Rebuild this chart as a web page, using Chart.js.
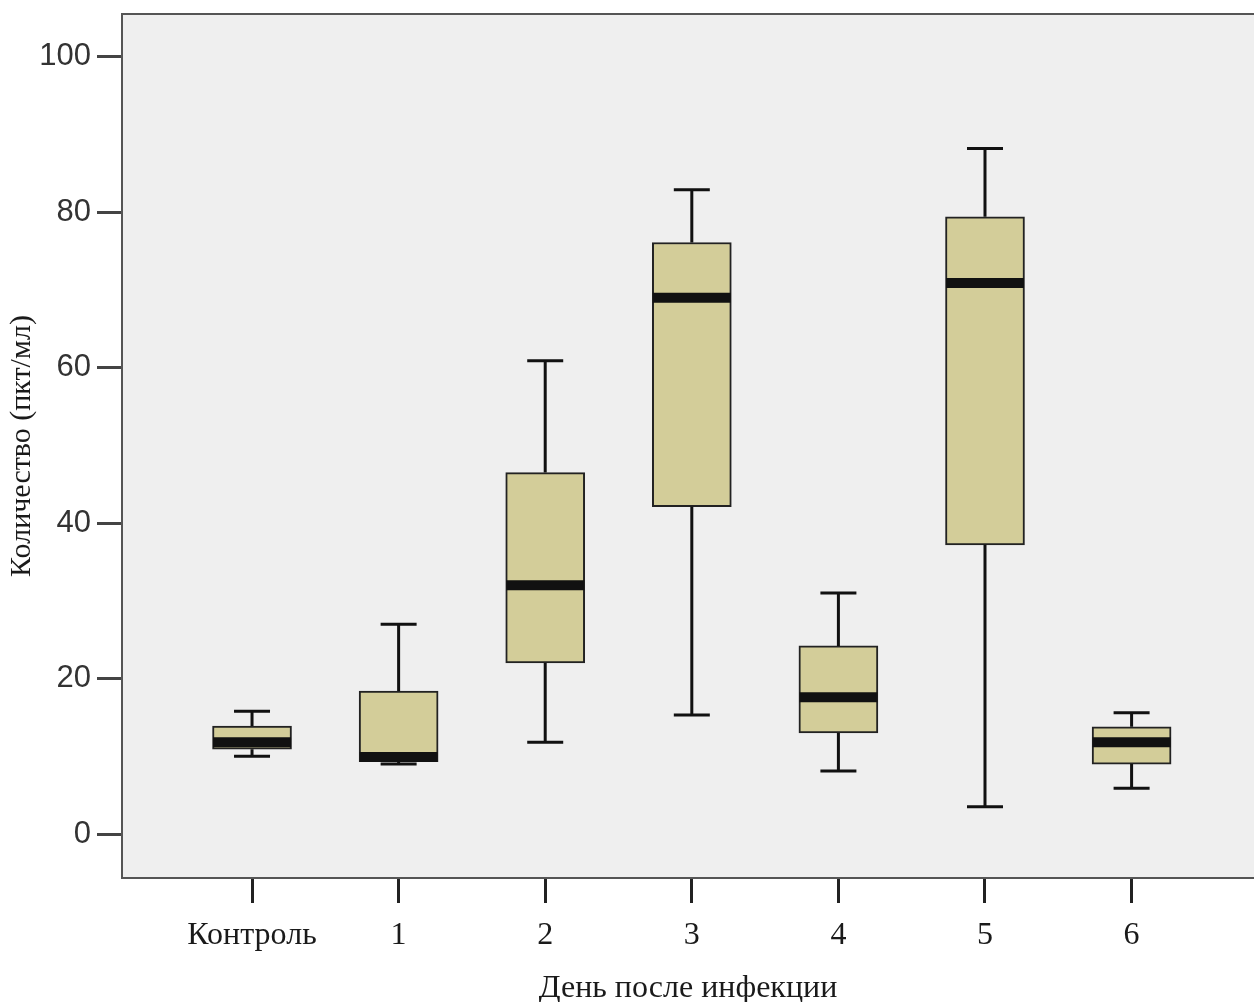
<!DOCTYPE html>
<html>
<head>
<meta charset="utf-8">
<script src="https://cdn.jsdelivr.net/npm/chart.js@4.4.1/dist/chart.umd.min.js"></script>
<style>
  html, body { margin: 0; padding: 0; background: #fff; overflow: hidden; }
  canvas { display: block; }
</style>
</head>
<body>
<canvas id="box-chart" width="1254" height="1002"></canvas>
<script>
// Box plot values
const categories = ['Контроль', '1', '2', '3', '4', '5', '6'];
const whiskerLow  = [10.0, 9.0, 11.8, 15.3, 8.1, 3.5, 5.9];
const q1          = [10.9, 9.3, 22.0, 42.1, 13.0, 37.2, 9.0];
const medians     = [11.8, 9.9, 32.0, 69.0, 17.6, 70.9, 11.8];
const q3          = [13.9, 18.4, 46.5, 76.1, 24.2, 79.4, 13.8];
const whiskerHigh = [15.8, 27.0, 60.9, 82.9, 31.0, 88.2, 15.6];
const yTicks = [0, 20, 40, 60, 80, 100];

const BOX_FILL = '#d3cd99';
const INK = '#111';

// plot background + top frame line
const framePlugin = {
  id: 'frame',
  beforeDraw(chart) {
    const { ctx, chartArea: a } = chart;
    ctx.save();
    ctx.fillStyle = '#efefef';
    ctx.fillRect(a.left, a.top, a.right - a.left, a.bottom - a.top);
    ctx.restore();
  },
  afterDraw(chart) {
    const { ctx, chartArea: a } = chart;
    ctx.save();
    ctx.strokeStyle = '#555';
    ctx.lineWidth = 2;
    ctx.beginPath();
    ctx.moveTo(a.left, a.top);
    ctx.lineTo(a.right, a.top);
    ctx.stroke();
    ctx.restore();
  }
};

// whiskers, caps and medians, placed with the chart's scales
const whiskerPlugin = {
  id: 'whiskers',
  afterDatasetsDraw(chart) {
    const { ctx, scales: { x, y } } = chart;
    const capHalf = 18, boxHalf = 39;
    ctx.save();
    ctx.strokeStyle = INK;
    categories.forEach((c, i) => {
      const cx = x.getPixelForValue(i);
      const yHi = y.getPixelForValue(whiskerHigh[i]);
      const yQ3 = y.getPixelForValue(q3[i]);
      const yQ1 = y.getPixelForValue(q1[i]);
      const yLo = y.getPixelForValue(whiskerLow[i]);
      const yMed = y.getPixelForValue(medians[i]);

      ctx.lineWidth = 3;
      ctx.beginPath();
      ctx.moveTo(cx, yHi); ctx.lineTo(cx, yQ3);
      ctx.moveTo(cx, yQ1); ctx.lineTo(cx, yLo);
      ctx.moveTo(cx - capHalf, yHi); ctx.lineTo(cx + capHalf, yHi);
      ctx.moveTo(cx - capHalf, yLo); ctx.lineTo(cx + capHalf, yLo);
      ctx.stroke();

      ctx.lineWidth = 10;
      ctx.beginPath();
      ctx.moveTo(cx - boxHalf, yMed); ctx.lineTo(cx + boxHalf, yMed);
      ctx.stroke();
    });
    ctx.restore();
  }
};

new Chart(document.getElementById('box-chart').getContext('2d'), {
  type: 'bar',
  data: {
    datasets: [{
      data: categories.map((c, i) => ({ x: i, y: [q1[i], q3[i]] })),
      backgroundColor: BOX_FILL,
      borderColor: '#222',
      borderWidth: 2,
      borderSkipped: false,
      barThickness: 79
    }]
  },
  options: {
    responsive: false,
    animation: false,
    layout: { padding: { top: 14, left: 0, right: 0, bottom: 0 } },
    plugins: {
      legend: { display: false },
      tooltip: { enabled: false }
    },
    scales: {
      x: {
        type: 'linear',
        offset: false,
        min: -0.887,
        max: 6.835,
        afterBuildTicks: s => { s.ticks = categories.map((c, i) => ({ value: i })); },
        afterFit: s => { s.height = 124; s.paddingLeft = 0; s.paddingRight = 0; },
        border: { display: true, color: '#555', width: 2 },
        grid: { offset: false, drawOnChartArea: false, drawTicks: true, tickLength: 25, tickWidth: 3, tickColor: '#222' },
        ticks: {
          color: '#1a1a1a',
          padding: 13,
          maxRotation: 0,
          autoSkip: false,
          font: { family: "'Liberation Serif', serif", size: 32 },
          callback: v => categories[v]
        },
        title: {
          display: true,
          text: 'День после инфекции',
          color: '#1a1a1a',
          padding: { top: 0, bottom: -6 },
          font: { family: "'Liberation Serif', serif", size: 32 }
        }
      },
      y: {
        min: -5.66,
        max: 105.5,
        afterBuildTicks: s => { s.ticks = yTicks.map(v => ({ value: v })); },
        afterFit: s => { s.width = 122; s.paddingTop = 0; s.paddingBottom = 0; },
        border: { display: true, color: '#555', width: 2 },
        grid: { drawOnChartArea: false, drawTicks: true, tickLength: 25, tickWidth: 3, tickColor: '#444' },
        ticks: {
          color: '#333',
          padding: 6,
          font: { family: "'Liberation Sans', sans-serif", size: 31 }
        },
        title: {
          display: true,
          text: 'Количество (пкт/мл)',
          color: '#1a1a1a',
          padding: { top: 4, bottom: 0 },
          font: { family: "'Liberation Serif', serif", size: 30 }
        }
      }
    }
  },
  plugins: [framePlugin, whiskerPlugin]
});
</script>
</body>
</html>
